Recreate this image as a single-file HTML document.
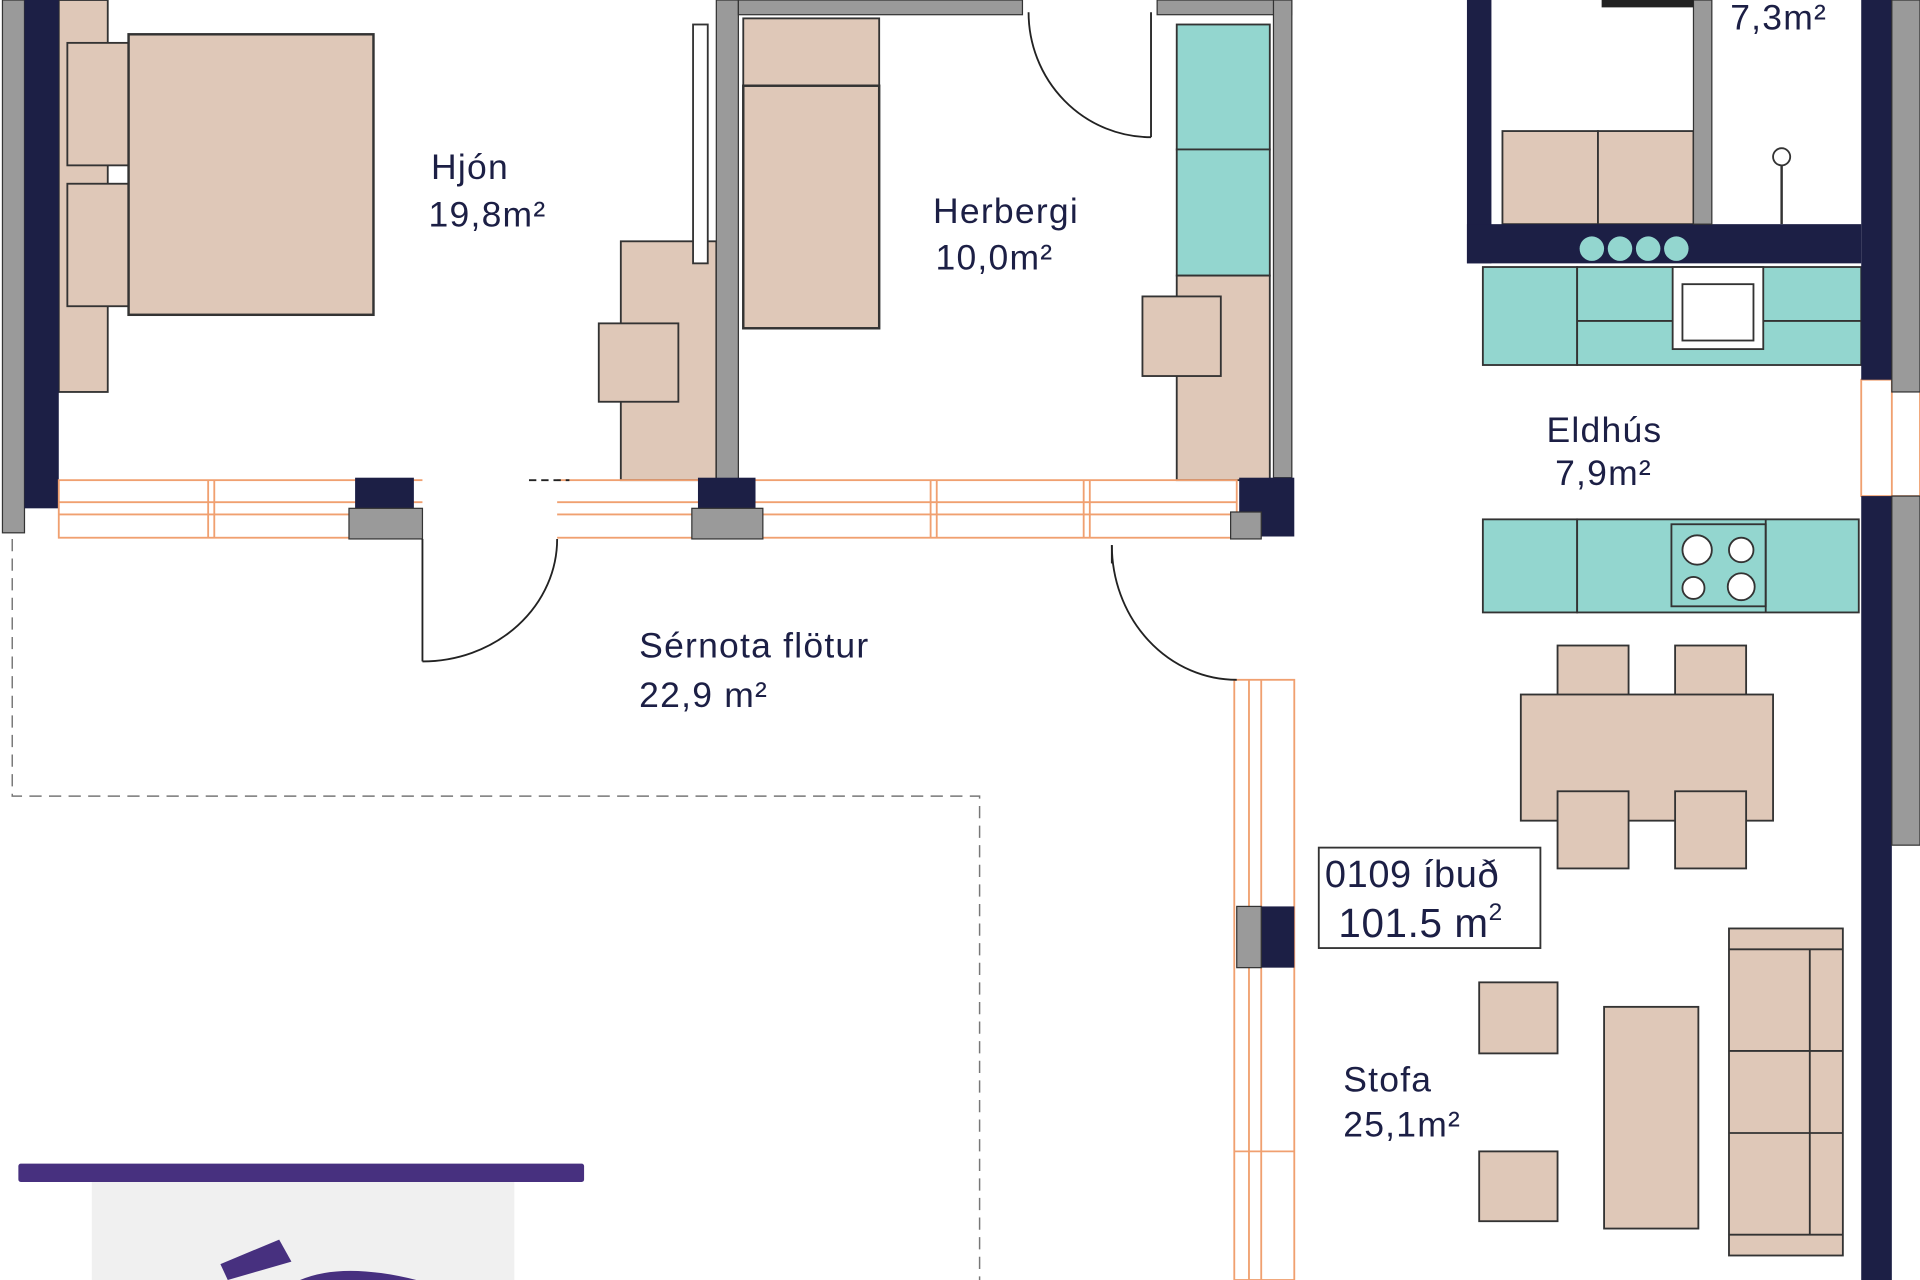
<!DOCTYPE html>
<html><head><meta charset="utf-8"><style>html,body{margin:0;padding:0;background:#fff;overflow:hidden}svg{display:block}text{font-family:"Liberation Sans",sans-serif;fill:#1c1f45}</style></head>
<body>
<svg width="1920" height="1280" viewBox="0 0 1568 1045" preserveAspectRatio="none" xmlns="http://www.w3.org/2000/svg">
<rect width="1568" height="1045" fill="#fff"/>
<g stroke="#333" stroke-width="1.5">
<rect x="48" y="0" width="40" height="320" fill="#dfc8b8"/>
<rect x="55" y="35" width="55" height="100" fill="#dfc8b8"/>
<rect x="55" y="150" width="55" height="100" fill="#dfc8b8"/>
<rect x="105" y="28" width="200" height="229" fill="#dfc8b8" stroke-width="2"/>
<rect x="507" y="197" width="78" height="195" fill="#dfc8b8"/>
<rect x="489" y="264" width="65" height="64" fill="#dfc8b8"/>
<rect x="566" y="20" width="12" height="195" fill="#fff"/>
<rect x="607" y="15" width="111" height="55" fill="#dfc8b8"/>
<rect x="607" y="70" width="111" height="198" fill="#dfc8b8" stroke-width="2"/>
<rect x="961" y="20" width="76" height="102" fill="#93d6cf"/>
<rect x="961" y="122" width="76" height="103" fill="#93d6cf"/>
<rect x="961" y="225" width="76" height="167" fill="#dfc8b8"/>
<rect x="933" y="242" width="64" height="65" fill="#dfc8b8"/>
<rect x="1227" y="107" width="78" height="76" fill="#dfc8b8"/>
<rect x="1305" y="107" width="78" height="76" fill="#dfc8b8"/>
<rect x="1211" y="218" width="77" height="80" fill="#93d6cf"/>
<rect x="1288" y="218" width="232" height="80" fill="#93d6cf"/>
<line x1="1288" y1="262" x2="1520" y2="262"/>
<rect x="1366" y="218" width="74" height="67" fill="#fff"/>
<rect x="1374" y="232" width="58" height="46" fill="#fff"/>
<rect x="1211" y="424" width="77" height="76" fill="#93d6cf"/>
<rect x="1288" y="424" width="230" height="76" fill="#93d6cf"/>
<rect x="1365" y="428" width="77" height="67" fill="#93d6cf"/>
<line x1="1442" y1="424" x2="1442" y2="500"/>
<circle cx="1386" cy="449" r="12" fill="#fff"/><circle cx="1422" cy="449" r="10" fill="#fff"/>
<circle cx="1383" cy="480" r="9" fill="#fff"/><circle cx="1422" cy="479" r="11" fill="#fff"/>
<rect x="1272" y="527" width="58" height="63" fill="#dfc8b8"/>
<rect x="1368" y="527" width="58" height="63" fill="#dfc8b8"/>
<rect x="1242" y="567" width="206" height="103" fill="#dfc8b8"/>
<rect x="1272" y="646" width="58" height="63" fill="#dfc8b8"/>
<rect x="1368" y="646" width="58" height="63" fill="#dfc8b8"/>
<rect x="1208" y="802" width="64" height="58" fill="#dfc8b8"/>
<rect x="1208" y="940" width="64" height="57" fill="#dfc8b8"/>
<rect x="1310" y="822" width="77" height="181" fill="#dfc8b8"/>
<rect x="1412" y="758" width="93" height="267" fill="#dfc8b8"/>
<line x1="1412" y1="775" x2="1505" y2="775"/><line x1="1412" y1="1008" x2="1505" y2="1008"/>
<line x1="1478" y1="775" x2="1478" y2="1008"/><line x1="1412" y1="858" x2="1505" y2="858"/><line x1="1412" y1="925" x2="1505" y2="925"/>
<rect x="1077" y="692" width="181" height="82" fill="#fff"/>
</g>
<rect x="2" y="0" width="18" height="435" fill="#9a9a9a" stroke="#333"/>
<rect x="20" y="0" width="28" height="415" fill="#1c1f45"/>
<rect x="585" y="0" width="18" height="392" fill="#9a9a9a" stroke="#333"/>
<rect x="603" y="0" width="232" height="12" fill="#9a9a9a" stroke="#333"/>
<rect x="945" y="0" width="110" height="12" fill="#9a9a9a" stroke="#333"/>
<rect x="1040" y="0" width="15" height="390" fill="#9a9a9a" stroke="#333"/>
<g stroke="#f0a070" fill="none" stroke-width="1.5">
<rect x="48" y="392" width="962" height="47"/>
<line x1="48" y1="410" x2="1010" y2="410"/><line x1="48" y1="420" x2="1010" y2="420"/>
<line x1="170" y1="392" x2="170" y2="439"/><line x1="175" y1="392" x2="175" y2="439"/>
<line x1="760" y1="392" x2="760" y2="439"/><line x1="765" y1="392" x2="765" y2="439"/>
<line x1="885" y1="392" x2="885" y2="439"/><line x1="890" y1="392" x2="890" y2="439"/>
<rect x="1520" y="310" width="48" height="95"/><line x1="1545" y1="310" x2="1545" y2="405"/>
<rect x="1008" y="555" width="49" height="490"/><line x1="1020" y1="555" x2="1020" y2="1045"/><line x1="1030" y1="555" x2="1030" y2="1045"/>
<line x1="1008" y1="940" x2="1057" y2="940"/>
</g>
<rect x="345" y="390" width="110" height="52" fill="#fff"/>
<rect x="290" y="390" width="48" height="25" fill="#1c1f45"/><rect x="285" y="415" width="60" height="25" fill="#9a9a9a" stroke="#333"/>
<rect x="570" y="390" width="47" height="25" fill="#1c1f45"/><rect x="565" y="415" width="58" height="25" fill="#9a9a9a" stroke="#333"/>
<rect x="1012" y="390" width="45" height="48" fill="#1c1f45"/><rect x="1005" y="418" width="25" height="22" fill="#9a9a9a" stroke="#333"/>
<rect x="1030" y="740" width="27" height="50" fill="#1c1f45"/><rect x="1010" y="740" width="20" height="50" fill="#9a9a9a" stroke="#333"/>
<rect x="1198" y="0" width="20" height="215" fill="#1c1f45"/>
<rect x="1198" y="183" width="322" height="32" fill="#1c1f45"/>
<rect x="1383" y="0" width="15" height="183" fill="#9a9a9a" stroke="#333"/>
<path d="M1308 3 H1383" stroke="#222" stroke-width="6"/>
<rect x="1520" y="0" width="25" height="310" fill="#1c1f45"/>
<rect x="1545" y="0" width="23" height="320" fill="#9a9a9a" stroke="#333"/>
<rect x="1520" y="405" width="25" height="640" fill="#1c1f45"/>
<rect x="1545" y="405" width="23" height="285" fill="#9a9a9a" stroke="#333"/>
<g fill="#93d6cf"><circle cx="1300" cy="203" r="10"/><circle cx="1323" cy="203" r="10"/><circle cx="1346" cy="203" r="10"/><circle cx="1369" cy="203" r="10"/></g>
<line x1="1455" y1="130" x2="1455" y2="183" stroke="#333" stroke-width="2"/><circle cx="1455" cy="128" r="7" fill="#fff" stroke="#333" stroke-width="1.5"/>
<g stroke="#222" stroke-width="1.5" fill="none">
<line x1="345" y1="440" x2="345" y2="540"/><path d="M345 540 A110 100 0 0 0 455 440"/>
<line x1="940" y1="10" x2="940" y2="112"/><path d="M840 10 A100 102 0 0 0 940 112"/>
<path d="M908 445 A102 110 0 0 0 1010 555"/><line x1="908" y1="445" x2="908" y2="460"/>
<line x1="432" y1="392" x2="465" y2="392" stroke-dasharray="6 4"/>
</g>
<path d="M10 440 V650 H800 V1045" fill="none" stroke="#777" stroke-width="1.2" stroke-dasharray="10 6"/>
<rect x="75" y="965" width="345" height="80" fill="#f0f0f0"/>
<rect x="15" y="950" width="462" height="15" rx="2" fill="#47307f"/>
<path d="M180 1032 L228 1012 L238 1030 L186 1045 Z" fill="#47307f"/>
<path d="M245 1045 Q280 1030 340 1045 Z" fill="#47307f"/>
<g font-size="29" letter-spacing="1">
<text x="352" y="146">Hjón</text><text x="350" y="185">19,8m²</text>
<text x="762" y="182">Herbergi</text><text x="764" y="220">10,0m²</text>
<text x="1413" y="24">7,3m²</text>
<text x="1263" y="361">Eldhús</text><text x="1270" y="396">7,9m²</text>
<text x="522" y="537">Sérnota flötur</text><text x="522" y="577">22,9 m²</text>
<text x="1097" y="891">Stofa</text><text x="1097" y="928">25,1m²</text>
<text x="1082" y="724" font-size="31" letter-spacing="0.5">0109 íbuð</text>
<text x="1093" y="765" font-size="33" letter-spacing="0.5">101.5  m<tspan font-size="20" dy="-14">2</tspan></text>
</g>
</svg>
</body></html>
